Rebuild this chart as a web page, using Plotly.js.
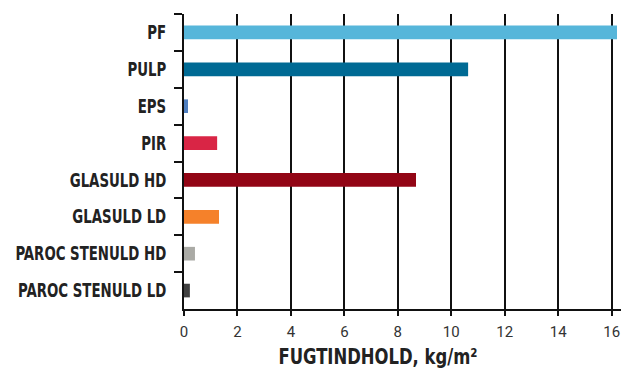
<!DOCTYPE html>
<html><head><meta charset="utf-8">
<script src="https://cdn.plot.ly/plotly-3.0.1.min.js"></script>
<style>html,body{margin:0;padding:0;background:#fff}#chart{width:628px;height:372px}</style>
</head><body><div id="chart"></div>
<script>
var categories = ["PF","PULP","EPS","PIR","GLASULD HD","GLASULD LD","PAROC STENULD HD","PAROC STENULD LD"];
var values = [16.2, 10.63, 0.15, 1.24, 8.68, 1.31, 0.41, 0.22];
var colors = ["#56B6DA","#006A94","#4F7FC0","#D92545","#920515","#F5812A","#AAAAA5","#404040"];
var tickVals = [0,2,4,6,8,10,12,14,16];
var xTitle = "FUGTINDHOLD, kg/m²";

var labelFont = "'DejaVu Sans Condensed','Liberation Sans Narrow',sans-serif";

function squeeze(sel, sx) {
  document.querySelectorAll(sel).forEach(function (t) {
    if (t.getAttribute('data-sq')) return;
    var x = parseFloat(t.getAttribute('x')) || 0;
    var y = parseFloat(t.getAttribute('y')) || 0;
    var tr = t.getAttribute('transform') || '';
    t.setAttribute('transform', tr + ' translate(' + x + ',' + y + ') scale(' + sx + ',1) translate(' + (-x) + ',' + (-y) + ')');
    t.setAttribute('data-sq', '1');
  });
}

Plotly.newPlot('chart', [{
  type: 'bar', orientation: 'h',
  x: values, y: categories,
  marker: {color: colors, line: {width: 0}},
  width: 0.37,
  hoverinfo: 'none'
}], {
  width: 628, height: 372,
  margin: {l: 184, r: 7, t: 14, b: 63},
  paper_bgcolor: '#fff', plot_bgcolor: '#fff',
  showlegend: false,
  xaxis: {
    range: [0, 16.35], tickvals: tickVals, ticktext: tickVals.map(String),
    showgrid: true, gridcolor: '#111', gridwidth: 2,
    zeroline: false,
    showline: true, linecolor: '#111', linewidth: 2,
    ticks: 'outside', ticklen: 5, tickwidth: 2, tickcolor: '#111',
    ticklabelstandoff: 3,
    tickfont: {family: 'Roboto, sans-serif', size: 15, color: '#333'},
    fixedrange: true
  },
  yaxis: {
    type: 'category', autorange: false,
    range: [7.5, -0.5],
    showline: true, linecolor: '#111', linewidth: 2,
    ticks: 'outside', ticklen: 8, tickwidth: 2, tickcolor: '#111',
    tickson: 'boundaries',
    ticklabelstandoff: 12,
    showgrid: false, zeroline: false,
    tickfont: {family: labelFont, size: 19, color: '#222', weight: 'bold'},
    fixedrange: true
  },
  annotations: [{
    text: '<b>' + xTitle + '</b>', xref: 'paper', yref: 'paper',
    x: 0.445, y: -0.112, xanchor: 'center', yanchor: 'top', showarrow: false,
    font: {family: labelFont, size: 22, color: '#222'}
  }]
}, {displayModeBar: false, staticPlot: true}).then(function (gd) {
  squeeze('#chart .ytick text', 0.78);
  squeeze('#chart .annotation-text', 0.83);
});
</script></body></html>
